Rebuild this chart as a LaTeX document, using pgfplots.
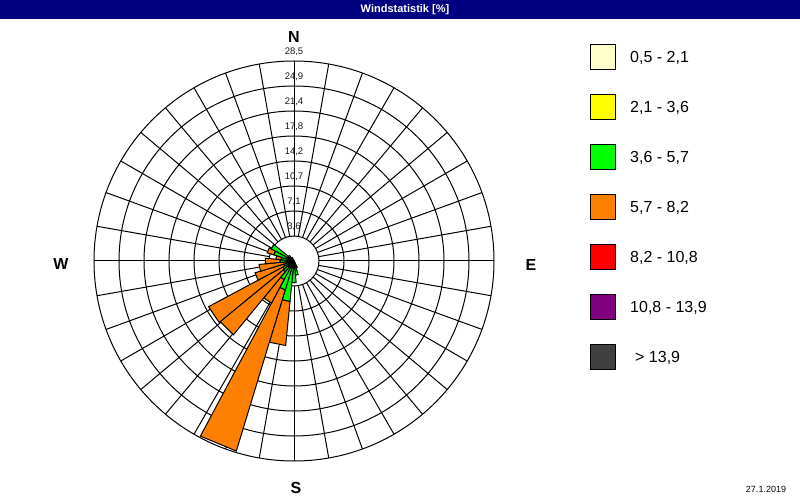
\documentclass[border=0pt]{standalone}
\usepackage{pgfplots}
\pgfplotsset{compat=1.18}
\usepgfplotslibrary{polar}
\usepackage{fontspec}
\setmainfont{Liberation Sans}

\definecolor{c1}{HTML}{FFFFCC}
\definecolor{c2}{HTML}{FFFF00}
\definecolor{c3}{HTML}{00FF00}
\definecolor{c4}{HTML}{FF8000}
\definecolor{c5}{HTML}{FF0000}
\definecolor{c6}{HTML}{800080}
\definecolor{c7}{HTML}{404040}
\definecolor{titlebar}{HTML}{000080}

% one stacked wedge piece: bearing, inner radius, outer radius, colour
% (32 sectors of 11.25 deg, bearing counted clockwise from north)
\newcommand\seg[4]{%
  \pgfmathsetmacro\angA{90-#1-5.625}%
  \pgfmathsetmacro\angB{90-#1+5.625}%
  \edef\doseg{\noexpand\addplot[draw=black, line width=1pt, fill=#4, forget plot]
    coordinates {(\angA,#2) (\angA,#3) (\angB,#3) (\angB,#2) (\angA,#2)};}%
  \doseg}
% bearing, then share (%) of the classes 0,5-2,1 / 2,1-3,6 / 3,6-5,7 / 5,7-8,2
\newcommand\petal[5]{%
  \pgfmathsetmacro\rA{#2}%
  \pgfmathsetmacro\rB{#2+#3}%
  \pgfmathsetmacro\rC{#2+#3+#4}%
  \pgfmathsetmacro\rD{#2+#3+#4+#5}%
  \seg{#1}{0}{\rA}{c1}\seg{#1}{\rA}{\rB}{c2}%
  \seg{#1}{\rB}{\rC}{c3}\seg{#1}{\rC}{\rD}{c4}}

\begin{document}
\begin{tikzpicture}[x=1pt,y=1pt]
\path[use as bounding box, fill=white] (0,0) rectangle (800,500);
\fill[titlebar] (0,481) rectangle (800,500);
\node[text=white, font=\bfseries\fontsize{11}{12}\selectfont] at (405,490.5) {Windstatistik [\%]};

\begin{polaraxis}[
    at={(294pt,239pt)}, anchor=origin,
    scale only axis, width=400pt, height=400pt,
    ymin=0, ymax=28.5,
    xtick=\empty,
    ytick={3.5625,7.125,10.6875,14.25,17.8125,21.375,24.9375,28.5},
    yticklabels={},
    ymajorgrids=true,
    y grid style={black, line width=1pt},
    major tick length=0pt,
    axis line style={draw=none},
    clip=false,
]
\pgfplotsinvokeforeach{0,10,...,350}{
  \addplot[black, line width=1pt, forget plot] coordinates {(#1,3.5625) (#1,28.5)};
}

\petal{157.5}{0.1}{0.2}{0.7}{0}
\petal{168.75}{0.1}{0.3}{1.6}{0}
\petal{180}{0.1}{0.3}{2.7}{0}
\petal{191.25}{0.1}{0.4}{5.3}{6.3}
\petal{202.5}{0.1}{0.4}{3.8}{24.0}
\petal{213.75}{0.1}{0.3}{2.6}{3.8}
\petal{225}{0.1}{0.3}{1.6}{11.6}
\petal{236.25}{0.1}{0.3}{1.4}{12.0}
\petal{247.5}{0.1}{0.2}{1.2}{4.3}
\petal{258.75}{0.1}{0.2}{0.9}{3.8}
\petal{270}{0.1}{0.3}{1.6}{2.1}
\petal{281.25}{0.1}{0.2}{1.5}{0.8}
\petal{292.5}{0.1}{0.3}{2.6}{1.0}
\petal{303.75}{0.1}{0.3}{3.3}{0}
\petal{315}{0.1}{0.2}{0.7}{0}
\petal{326.25}{0.1}{0.2}{0.3}{0}
\end{polaraxis}

% ring labels along the north line (ring k at 25k pt from the centre)
\foreach \k/\t in {1/{3,6},2/{7,1},3/{10,7},4/{14,2},5/{17,8},6/{21,4},7/{24,9},8/{28,5}}{
  \node[anchor=base, inner sep=0pt, text=black!90,
        font=\fontsize{9.5}{10}\selectfont] at (294,245+25*\k) {\t};
}

\begin{scope}[font=\bfseries\fontsize{16}{18}\selectfont]
\node at (294,463) {N};
\node at (296,12) {S};
\node at (61,236) {W};
\node at (531,235) {E};
\end{scope}

\foreach \i/\c/\t in {0/c1/{0,5 - 2,1},1/c2/{2,1 - 3,6},2/c3/{3,6 - 5,7},3/c4/{5,7 - 8,2},
                     4/c5/{8,2 - 10,8},5/c6/{10,8 - 13,9},6/c7/{\hspace{5pt}> 13,9}}{
  \draw[fill=\c, line width=1pt] (590,455-50*\i) rectangle (615,430-50*\i);
  \node[anchor=west, inner sep=0pt, font=\fontsize{16}{18}\selectfont] at (630,442.5-50*\i) {\t};
}
\node[font=\fontsize{9}{10}\selectfont] at (766,11) {27.1.2019};
\end{tikzpicture}
\end{document}
